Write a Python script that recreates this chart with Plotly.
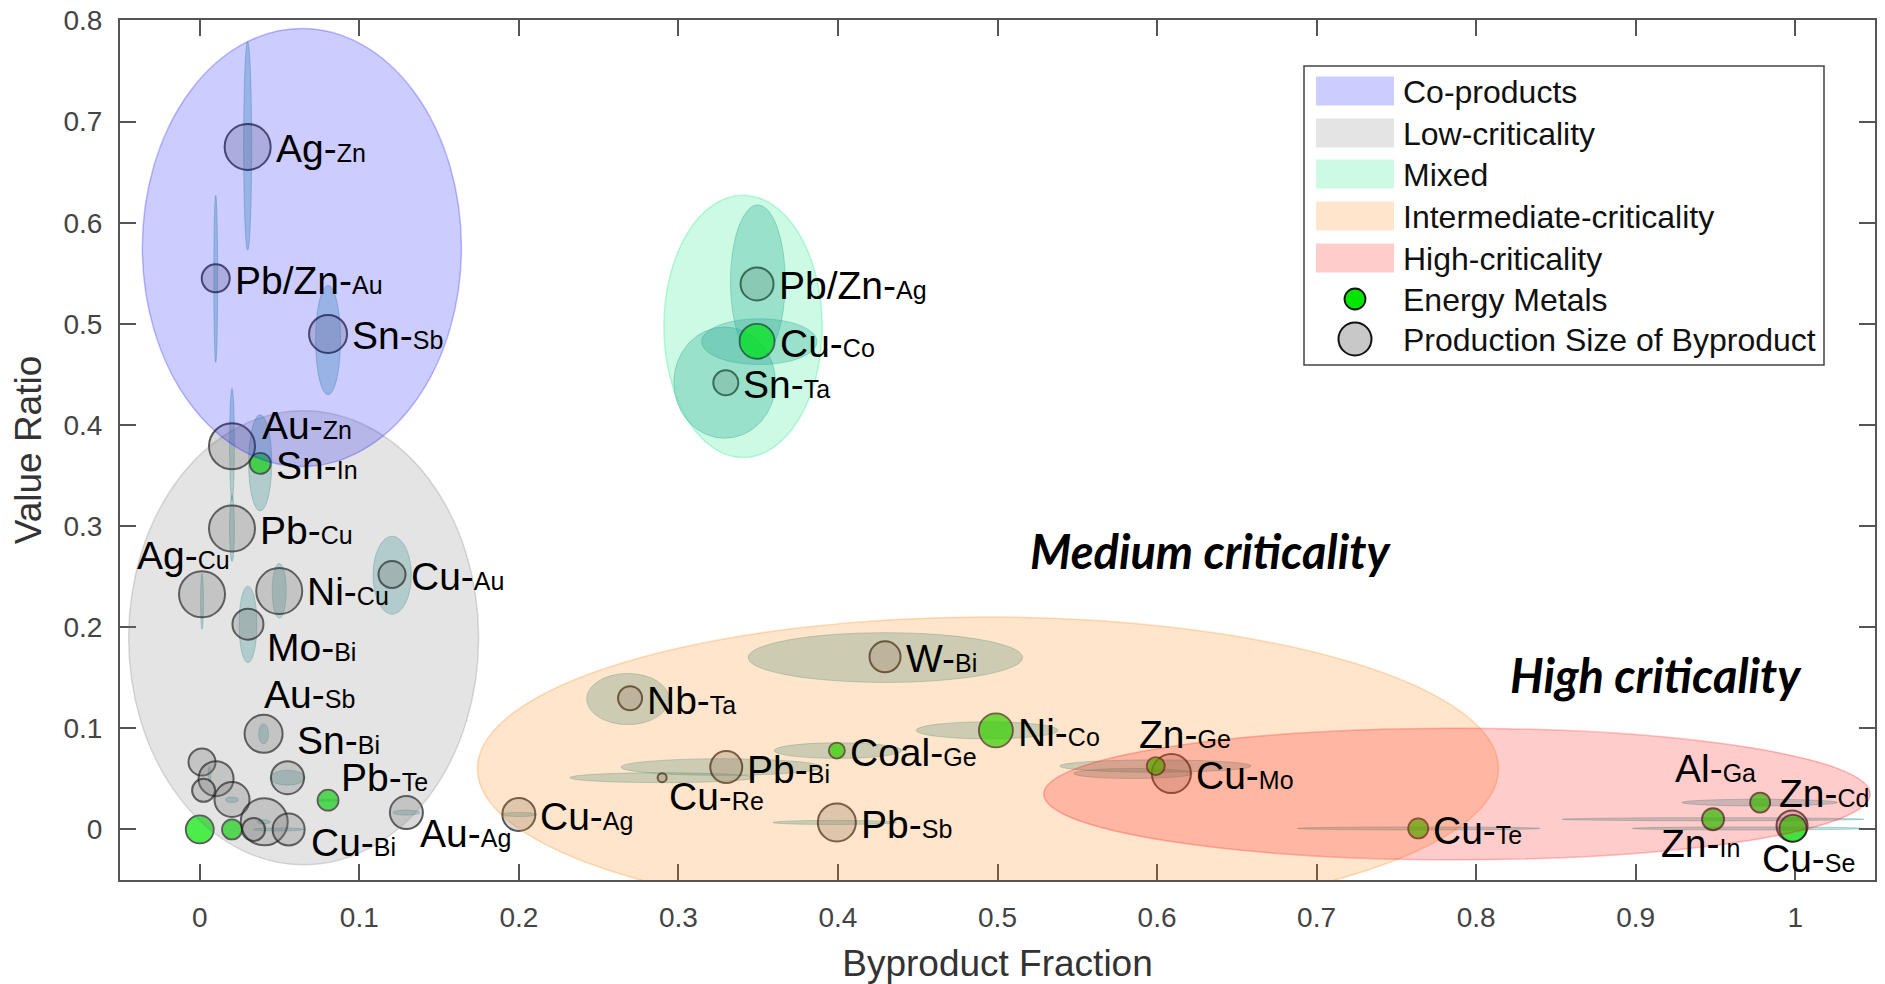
import plotly.graph_objects as go

# ---------------- data ----------------
main_metal = ["Ag", "Pb/Zn", "Sn", "Au", "Sn", "Pb", "Ag", "Ni", "Mo", "Cu",
              "Au", "Sn", "", "", "", "", "", "Cu", "", "",
              "", "Pb", "Au", "Cu", "Nb", "W", "Coal", "Pb", "Cu", "Pb",
              "Ni", "Zn", "Cu", "Cu", "Zn", "Zn", "Al", "Cu", "Pb/Zn", "Cu", "Sn"]
byproduct = ["Zn", "Au", "Sb", "Zn", "In", "Cu", "Cu", "Cu", "Bi", "Au",
             "Sb", "Bi", "", "", "", "", "", "Bi", "", "",
             "", "Te", "Ag", "Ag", "Ta", "Bi", "Ge", "Bi", "Re", "Sb",
             "Co", "Ge", "Mo", "Te", "In", "Cd", "Ga", "Se", "Ag", "Co", "Ta"]
byproduct_fraction = [0.030, 0.010, 0.0804, 0.0202, 0.0379, 0.0202, 0.0014, 0.0498, 0.0302, 0.1205,
                      0.040, 0.055, 0.0014, 0.0102, 0.0024, 0.0202, 0.0404, 0.0557, 0.0337, 0.0,
                      0.0202, 0.0804, 0.1295, 0.200, 0.2697, 0.4295, 0.3993, 0.330, 0.2898, 0.3993,
                      0.499, 0.5992, 0.609, 0.7637, 0.9485, 0.978, 0.998, 0.9986, 0.3493, 0.3493, 0.3297]
value_ratio = [0.675, 0.545, 0.490, 0.379, 0.362, 0.2975, 0.2325, 0.2357, 0.203, 0.2522,
               0.0946, 0.0512, 0.0666, 0.0502, 0.0387, 0.0296, 0.0075, 0.0, 0.0, 0.0,
               0.0, 0.0289, 0.0167, 0.0148, 0.1297, 0.1707, 0.078, 0.0617, 0.0512, 0.0069,
               0.098, 0.0627, 0.0552, 0.001, 0.0101, 0.0266, 0.0035, 0.001, 0.5395, 0.4827, 0.4417]
production_size = [46, 28, 38, 46, 21, 46, 46, 46, 31, 27,
                   38, 33, 27, 35, 23, 35, 47, 32, 23, 28,
                   20, 21, 33, 33, 24, 31, 16, 32, 9, 38,
                   34, 18, 39, 20, 22, 20, 31, 27, 33, 35, 25]
energy_metal = [0, 0, 0, 0, 1, 0, 0, 0, 0, 0,
                0, 0, 0, 0, 0, 0, 0, 0, 0, 1,
                1, 1, 0, 0, 0, 0, 1, 0, 0, 0,
                1, 1, 0, 1, 1, 1, 0, 1, 0, 1, 0]
# uncertainty ranges
frac_lo = [0.0275, 0.0088, 0.0726, 0.0187, 0.0306, 0.0187, 0.0005, 0.0454, 0.0246, 0.1086,
           0.0369, 0.044, None, 0.0052, None, 0.016, 0.0359, 0.0337, None, None,
           None, 0.0745, 0.121, 0.189, 0.2425, 0.3437, 0.36, 0.264, 0.232, 0.3594,
           0.449, 0.539, 0.5477, 0.688, 0.854, 0.929, None, 0.898, 0.3326, 0.3145, 0.2971]
frac_hi = [0.0325, 0.0112, 0.0882, 0.0217, 0.0451, 0.0217, 0.0023, 0.0542, 0.0358, 0.1326,
           0.0431, 0.066, None, 0.0070, None, 0.0243, 0.0442, 0.065, None, None,
           None, 0.0865, 0.138, 0.211, 0.2941, 0.5157, 0.44, 0.39, 0.3476, 0.4366,
           0.538, 0.659, 0.6223, 0.840, 1.043, 1.0264, None, 1.043, 0.367, 0.3869, 0.3609]
ratio_lo = [0.573, 0.462, 0.430, 0.325, 0.315, 0.265, 0.198, 0.209, 0.165, 0.2128,
            0.0847, 0.0438, None, 0.047, None, 0.0266, 0.0055, -0.0015, None, None,
            None, 0.0279, 0.0142, 0.0128, 0.1037, 0.1454, 0.0703, 0.0535, 0.0463, 0.0049,
            0.0896, 0.0566, 0.0504, -0.0005, 0.0086, 0.0233, None, -0.0005, 0.4657, 0.4597, 0.3869]
ratio_hi = [0.779, 0.627, 0.538, 0.436, 0.410, 0.331, 0.253, 0.263, 0.2406, 0.290,
            0.1045, 0.0586, None, 0.062, None, 0.0321, 0.0095, 0.0015, None, None,
            None, 0.0299, 0.0192, 0.0168, 0.1543, 0.1946, 0.0857, 0.0699, 0.0561, 0.0089,
            0.1064, 0.0688, 0.0603, 0.0025, 0.0116, 0.0299, None, 0.0025, 0.6177, 0.5051, 0.4969]

region_names = ["Co-products", "Low-criticality", "Mixed", "Intermediate-criticality", "High-criticality"]
region_cx = [0.064, 0.0651, 0.3405, 0.494, 0.788]
region_cy = [0.5755, 0.1895, 0.4975, 0.060, 0.035]
region_rx = [0.100, 0.1097, 0.0496, 0.320, 0.259]
region_ry = [0.2165, 0.2245, 0.1297, 0.150, 0.065]
region_rgb = ["0,0,255", "120,120,120", "0,230,120", "255,125,0", "255,0,0"]
region_draw_order = [1, 0, 2, 3, 4]

x_ticks = [0, 0.1, 0.2, 0.3, 0.4, 0.5, 0.6, 0.7, 0.8, 0.9, 1]
x_ticktext = ["0", "0.1", "0.2", "0.3", "0.4", "0.5", "0.6", "0.7", "0.8", "0.9", "1"]
y_ticks = [0, 0.1, 0.2, 0.3, 0.4, 0.5, 0.6, 0.7, 0.8]
y_ticktext = ["0", "0.1", "0.2", "0.3", "0.4", "0.5", "0.6", "0.7", "0.8"]

# ---------------- styling ----------------
FONT = "Liberation Sans, Arial, Helvetica, sans-serif"
MAIN_SIZE = 39
SUB_SIZE = 25
# label placement: (dx to left edge of label, dy up) in px relative to the bubble centre
label_offset = {
    "Au-Zn": (30, 21), "Ag-Cu": (-65, 39), "Mo-Bi": (19, -23), "Au-Sb": (0, 39),
    "Sn-Bi": (9, 37), "Pb-Te": (13, 23), "Cu-Bi": (22, -13), "Au-Ag": (14, -21),
    "Cu-Re": (7, -19), "Zn-Ge": (-17, 32), "Al-Ga": (-117, 57), "Zn-In": (-52, -24),
    "Cu-Se": (-31, -30), "Zn-Cd": (19, 9), "Ni-Cu": (28, 0),
}

# figure geometry
FIG_W, FIG_H = 1885, 984
M_L, M_R, M_T, M_B = 120, 10, 20, 104
PW = FIG_W - M_L - M_R
PH = FIG_H - M_T - M_B


def px_to_paper(sx, sy):
    # pixel position in the figure -> paper coordinates
    return (sx - M_L) / PW, 1 - (sy - M_T) / PH


fig = go.Figure()
shapes = []
annotations = []

# small uncertainty ellipses (below markers)
for i in range(len(main_metal)):
    if frac_lo[i] is None:
        continue
    shapes.append(dict(type="circle", xref="x", yref="y", layer="below",
                       x0=frac_lo[i], x1=frac_hi[i], y0=ratio_lo[i], y1=ratio_hi[i],
                       fillcolor="rgba(51,153,153,0.30)",
                       line=dict(color="rgba(51,153,153,0.35)", width=1)))

# bubbles
gray_idx = [i for i in range(len(main_metal)) if not energy_metal[i]]
green_idx = [i for i in range(len(main_metal)) if energy_metal[i]]
fig.add_trace(go.Scatter(
    x=[byproduct_fraction[i] for i in gray_idx], y=[value_ratio[i] for i in gray_idx],
    mode="markers", showlegend=False, hoverinfo="skip",
    marker=dict(size=[production_size[i] for i in gray_idx], color="rgba(128,128,128,0.43)",
                line=dict(color="#111111", width=2))))
fig.add_trace(go.Scatter(
    x=[byproduct_fraction[i] for i in green_idx], y=[value_ratio[i] for i in green_idx],
    mode="markers", showlegend=False, hoverinfo="skip",
    marker=dict(size=[production_size[i] for i in green_idx], color="#00e600",
                line=dict(color="#111111", width=1.8))))

# big cluster regions (drawn above the bubbles, translucent)
for k in region_draw_order:
    shapes.append(dict(type="circle", xref="x", yref="y", layer="above",
                       x0=region_cx[k] - region_rx[k], x1=region_cx[k] + region_rx[k],
                       y0=region_cy[k] - region_ry[k], y1=region_cy[k] + region_ry[k],
                       fillcolor=f"rgba({region_rgb[k]},0.2)",
                       line=dict(color=f"rgba({region_rgb[k]},0.25)", width=1.5)))

# bubble labels
for i in range(len(main_metal)):
    if not main_metal[i]:
        continue
    key = f"{main_metal[i]}-{byproduct[i]}"
    dx, dy = label_offset.get(key, (production_size[i] / 2 + 5, -2))
    annotations.append(dict(
        x=byproduct_fraction[i], y=value_ratio[i], xref="x", yref="y",
        text=f'{main_metal[i]}-<span style="font-size:{SUB_SIZE}px">{byproduct[i]}</span>',
        showarrow=False, xanchor="left", yanchor="middle", xshift=dx - 2, yshift=dy,
        font=dict(family=FONT, size=MAIN_SIZE, color="#000000")))

# region titles
annotations.append(dict(x=0.6335, y=0.275, xref="x", yref="y", showarrow=False,
                        text="<b><i>Medium criticality</i></b>", xanchor="center", yanchor="middle",
                        font=dict(family="Lato, Open Sans, sans-serif", size=47, color="#000000")))
annotations.append(dict(x=0.9128, y=0.153, xref="x", yref="y", showarrow=False,
                        text="<b><i>High criticality</i></b>", xanchor="center", yanchor="middle",
                        font=dict(family="Lato, Open Sans, sans-serif", size=47, color="#000000")))

# ---------------- legend (drawn in paper space) ----------------
bx0, by0 = px_to_paper(1304, 66)
bx1, by1 = px_to_paper(1824, 365)
shapes.append(dict(type="rect", xref="paper", yref="paper", layer="above",
                   x0=bx0, x1=bx1, y0=by1, y1=by0, fillcolor="white",
                   line=dict(color="#444444", width=1.5)))
legend_rows = [91, 133, 174, 216, 258, 299, 339]
legend_labels = region_names + ["Energy Metals", "Production Size of Byproduct"]
for r, k in enumerate(range(len(region_names))):
    sx0, sy0 = px_to_paper(1316, legend_rows[r] - 14.5)
    sx1, sy1 = px_to_paper(1394, legend_rows[r] + 14.5)
    shapes.append(dict(type="rect", xref="paper", yref="paper", layer="above",
                       x0=sx0, x1=sx1, y0=sy1, y1=sy0,
                       fillcolor=f"rgba({region_rgb[k]},0.2)", line=dict(width=0)))
mx, my6 = px_to_paper(1355, legend_rows[5])
_, my7 = px_to_paper(1355, legend_rows[6])
shapes.append(dict(type="circle", xref="paper", yref="paper", layer="above",
                   xsizemode="pixel", ysizemode="pixel", xanchor=mx, yanchor=my6,
                   x0=-10.5, x1=10.5, y0=-10.5, y1=10.5, fillcolor="#00e600",
                   line=dict(color="#111111", width=1.8)))
shapes.append(dict(type="circle", xref="paper", yref="paper", layer="above",
                   xsizemode="pixel", ysizemode="pixel", xanchor=mx, yanchor=my7,
                   x0=-16.5, x1=16.5, y0=-16.5, y1=16.5, fillcolor="rgb(200,200,200)",
                   line=dict(color="#111111", width=2)))
tx, _ = px_to_paper(1401, 0)
for r, lab in enumerate(legend_labels):
    _, ty = px_to_paper(0, legend_rows[r] + 1)
    annotations.append(dict(x=tx, y=ty, xref="paper", yref="paper", showarrow=False,
                            text=lab, xanchor="left", yanchor="middle",
                            font=dict(family=FONT, size=32, color="#111111")))

axis_common = dict(showgrid=False, zeroline=False, showline=True, linecolor="#555555",
                   linewidth=2, mirror="ticks", ticks="inside", ticklen=16, tickwidth=1.5,
                   tickcolor="#555555", ticklabeloverflow="allow", automargin=False,
                   tickfont=dict(family=FONT, size=28, color="#444444"))

fig.update_layout(
    width=FIG_W, height=FIG_H,
    margin=dict(l=M_L, r=M_R, t=M_T, b=M_B, pad=0, autoexpand=False),
    paper_bgcolor="white", plot_bgcolor="white",
    shapes=shapes, annotations=annotations, showlegend=False,
    xaxis=dict(range=[-0.05, 1.05], tickvals=x_ticks, ticktext=x_ticktext,
               title=dict(text="Byproduct Fraction", standoff=26,
                          font=dict(family=FONT, size=37, color="#333333")),
               ticklabelstandoff=11, **axis_common),
    yaxis=dict(range=[-0.05, 0.8005], tickvals=y_ticks, ticktext=y_ticktext,
               title=dict(text="Value Ratio", standoff=11,
                          font=dict(family=FONT, size=37, color="#333333")),
               ticklabelstandoff=10, **axis_common),
)

fig.write_html("out.html", config={"displayModeBar": False},
               post_script="document.body.style.margin='0px';document.body.style.overflow='hidden';")
